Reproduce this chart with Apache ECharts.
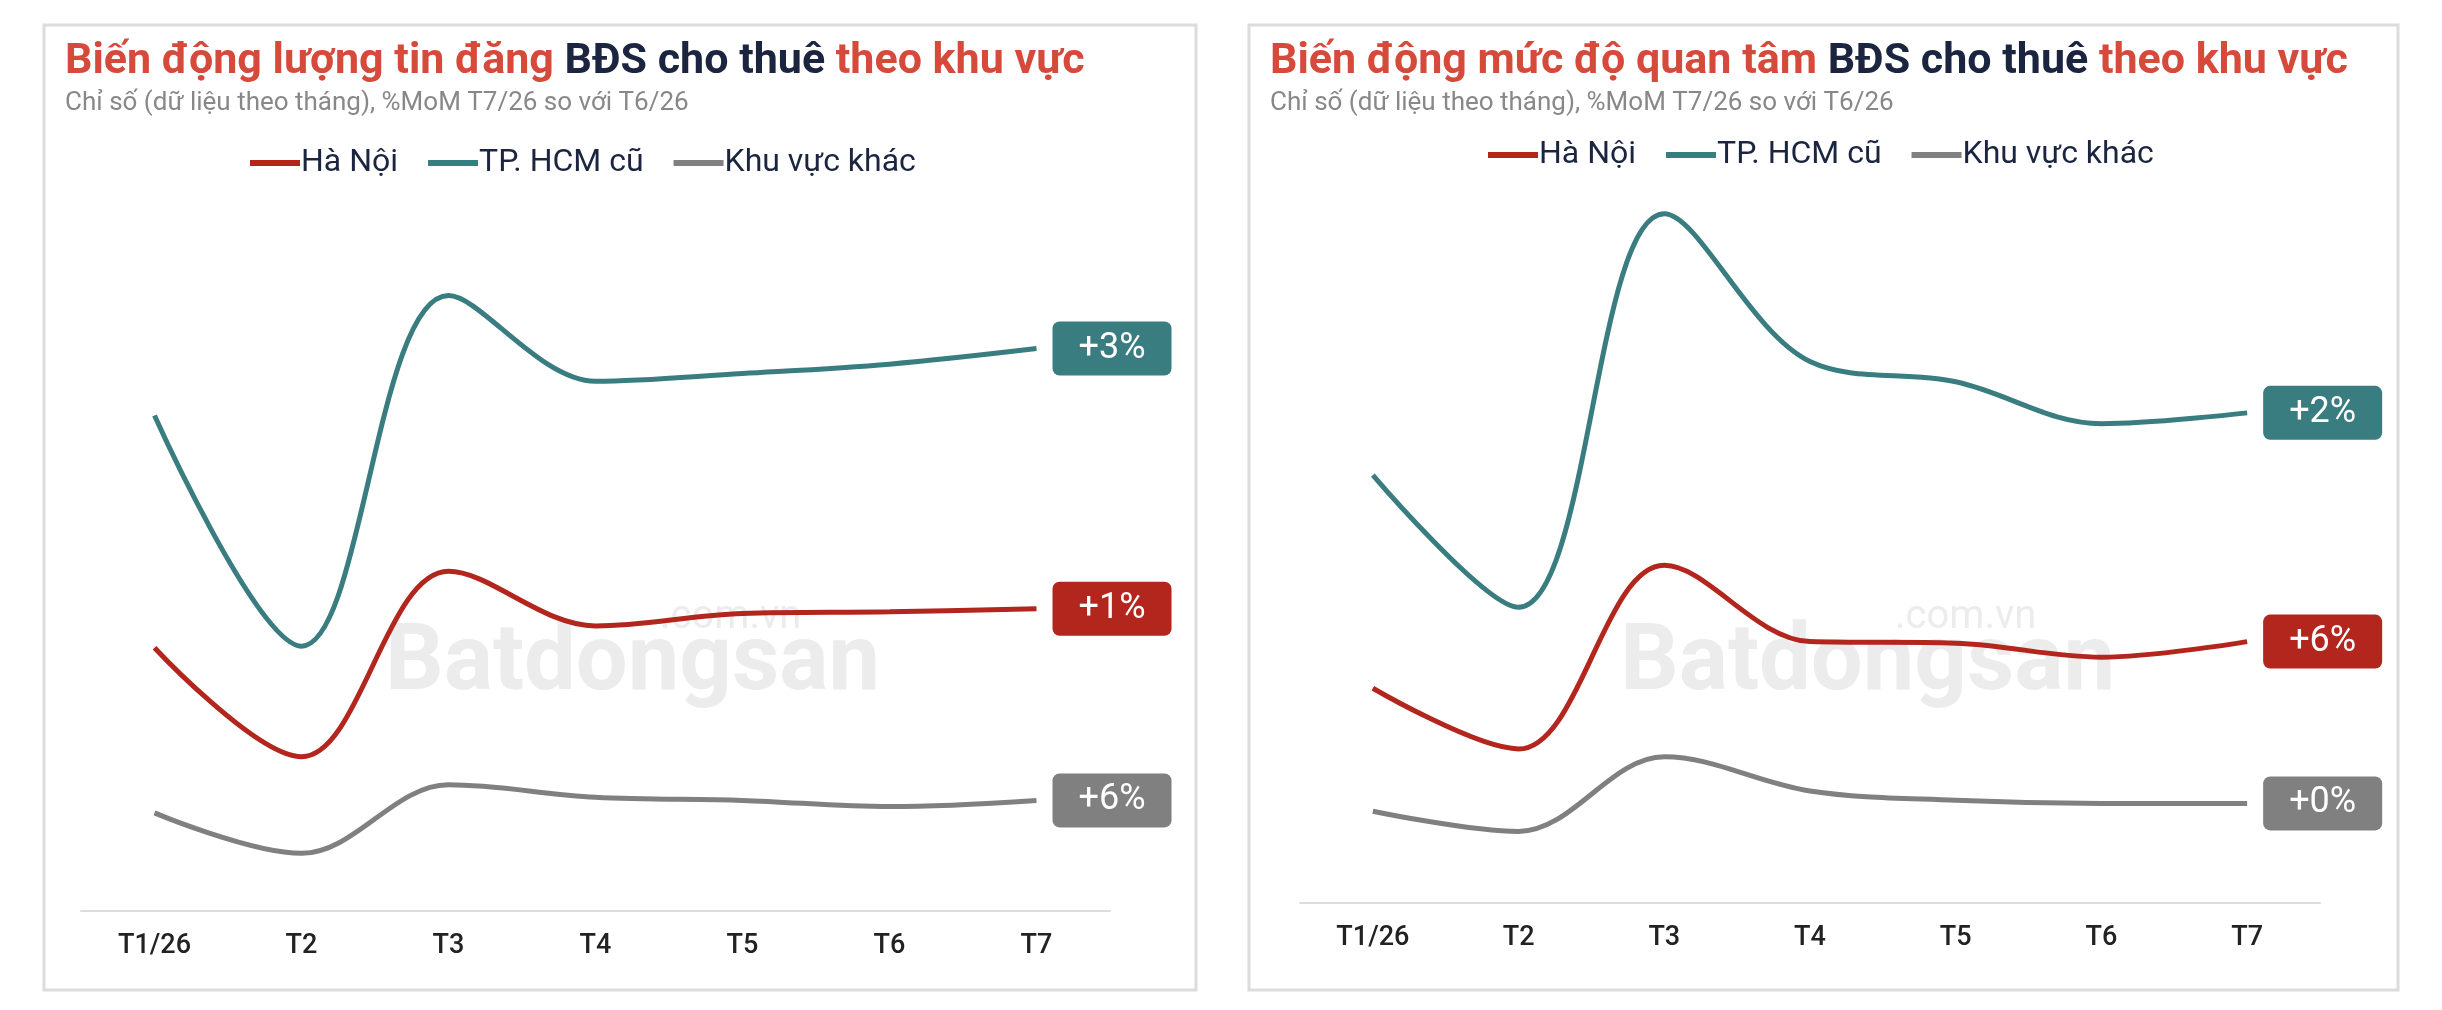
<!DOCTYPE html>
<html><head><meta charset="utf-8">
<script src="https://cdn.jsdelivr.net/npm/echarts@6/dist/echarts.min.js"></script>
<style>html,body{margin:0;padding:0;background:#fff}#c{width:2442px;height:1010px}</style>
</head><body><div id="c"></div>
<script>
const categories = ['T1/26','T2','T3','T4','T5','T6','T7'];
const legendNames = ['Hà Nội','TP. HCM cũ','Khu vực khác'];
// Left chart: listing volume index
const leftHN = [169,99,218,183,191,192,194];
const leftHCM = [318,170,395,340,345,351,361];
const leftOther = [63,37,81,73,71,67,71];
const leftEndLabels = ['+1%','+3%','+6%'];
// Right chart: interest index
const rightHN = [138,99,217,168,167,158,168];
const rightHCM = [275,190,443,348,335,308,315];
const rightOther = [59,46,94,72,66,64,64];
const rightEndLabels = ['+6%','+2%','+0%'];

const colors = ['#b3261e','#3a7d80','#808080'];
const F = 'Roboto, "Noto Sans", sans-serif';
const chart = echarts.init(document.getElementById('c'));

function mkSeries(data, idx, gi, lbl){
  return {
    name: legendNames[idx], type:'line', smooth:0.35, symbol:'none',
    xAxisIndex:gi, yAxisIndex:gi, data:data,
    lineStyle:{color:colors[idx], width:5}, itemStyle:{color:colors[idx]},
    endLabel:{show:true, formatter:lbl, backgroundColor:colors[idx], color:'#fff',
      borderRadius:7, padding:[10,26,8,26], fontSize:36, fontFamily:F, distance:16}
  };
}
function titleRich(a){
  return {text:'{r|'+a+'}{d| BĐS cho thuê }{r|theo khu vực}', subtext:'Chỉ số (dữ liệu theo tháng), %MoM T7/26 so với T6/26'};
}
const t1 = titleRich('Biến động lượng tin đăng');
const t2 = titleRich('Biến động mức độ quan tâm');
const tStyle = {rich:{r:{color:'#d64a3b',fontSize:43,fontWeight:'bold',fontFamily:F},d:{color:'#1b2540',fontSize:43,fontWeight:'bold',fontFamily:F}}};
const sStyle = {color:'#888',fontSize:26,fontFamily:F};

function axes(gi){
  return {
    x:{type:'category', gridIndex:gi, data:categories, boundaryGap:true,
      axisLine:{lineStyle:{color:'#dddddd',width:2}}, axisTick:{show:false},
      axisLabel:{color:'#222',fontSize:27,fontFamily:F,fontWeight:500,margin:22}},
    y:{type:'value', gridIndex:gi, min:0, max:500, show:false, splitLine:{show:false}}
  };
}
const a0=axes(0), a1=axes(1);

chart.setOption({
  animation:false,
  graphic:[
    {type:'rect',shape:{x:44,y:25,width:1152,height:965},style:{fill:'none',stroke:'#dcdcdc',lineWidth:3}},
    {type:'rect',shape:{x:1249,y:25,width:1149,height:965},style:{fill:'none',stroke:'#dcdcdc',lineWidth:3}},
    {type:'text',left:385,top:620,z:-1,style:{text:'Batdongsan',fontSize:92,fontWeight:'bold',fill:'#ececec',fontFamily:F}},
    {type:'text',left:660,top:598,z:-1,style:{text:'.com.vn',fontSize:40,fill:'#ececec',fontFamily:F}},
    {type:'text',left:1620,top:620,z:-1,style:{text:'Batdongsan',fontSize:92,fontWeight:'bold',fill:'#ececec',fontFamily:F}},
    {type:'text',left:1895,top:598,z:-1,style:{text:'.com.vn',fontSize:40,fill:'#ececec',fontFamily:F}}
  ],
  title:[
    {text:t1.text, subtext:t1.subtext, left:60, top:36, textStyle:tStyle, subtextStyle:sStyle, itemGap:6},
    {text:t2.text, subtext:t2.subtext, left:1265, top:36, textStyle:tStyle, subtextStyle:sStyle, itemGap:6}
  ],
  legend:[
    {data:legendNames, left:245, top:142, icon:'path://M0,0 L1,0 L1,0.12 L0,0.12 Z', itemWidth:58, itemHeight:6, itemGap:30,
     textStyle:{fontSize:32,color:'#1b2540',fontFamily:F,padding:[0,0,0,-8]}},
    {data:legendNames, left:1483, top:134, icon:'path://M0,0 L1,0 L1,0.12 L0,0.12 Z', itemWidth:58, itemHeight:6, itemGap:30,
     textStyle:{fontSize:32,color:'#1b2540',fontFamily:F,padding:[0,0,0,-8]}}
  ],
  grid:[
    {left:81, width:1029, top:132, height:779},
    {left:1300, width:1020, top:125, height:778}
  ],
  xAxis:[a0.x,a1.x], yAxis:[a0.y,a1.y],
  series:[
    mkSeries(leftHN,0,0,leftEndLabels[0]), mkSeries(leftHCM,1,0,leftEndLabels[1]), mkSeries(leftOther,2,0,leftEndLabels[2]),
    mkSeries(rightHN,0,1,rightEndLabels[0]), mkSeries(rightHCM,1,1,rightEndLabels[1]), mkSeries(rightOther,2,1,rightEndLabels[2])
  ]
});
</script></body></html>
